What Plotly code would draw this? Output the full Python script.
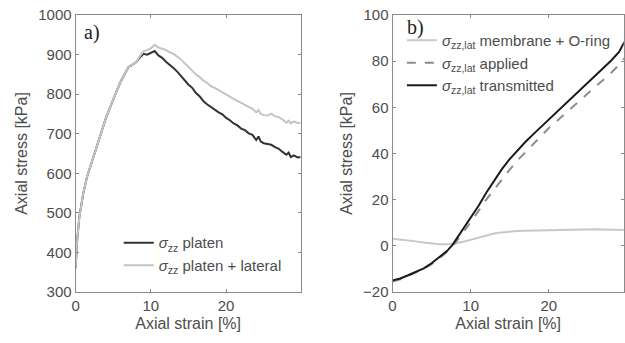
import plotly.graph_objects as go

# ---- Panel a) data ----
strain_a = [0, 0.2, 0.5, 1, 1.5, 2, 2.5, 3, 3.5, 4, 4.5, 5, 5.5, 6, 6.5, 7, 7.5, 8, 8.5, 9, 9.5, 10, 10.5,
            11, 11.5, 12, 12.5, 13, 13.5, 14, 14.5, 15, 15.5, 16, 16.5, 17, 17.5, 18, 18.5, 19, 19.5, 20,
            20.5, 21, 21.5, 22, 22.5, 23, 23.5, 24, 24.3, 24.6, 25, 25.5, 26, 26.5, 27, 27.5, 28, 28.3,
            28.6, 29, 29.5, 29.9]
platen = [360, 430, 490, 548, 590, 620, 650, 680, 710, 738, 763, 788, 810, 832, 850, 868, 874, 880, 892,
          902, 900, 905, 909, 898, 892, 882, 875, 866, 857, 846, 836, 824, 816, 803, 794, 782, 774, 767,
          762, 754, 749, 740, 734, 726, 721, 713, 709, 701, 697, 684, 693, 680, 676, 674, 672, 666, 662,
          654, 647, 652, 641, 645, 640, 641]
platen_lat = [360, 430, 490, 548, 590, 620, 650, 680, 710, 738, 763, 788, 810, 832, 850, 868, 874, 880,
              895, 908, 912, 916, 925, 918, 915, 912, 906, 902, 895, 888, 878, 868, 860, 850, 843, 834,
              828, 820, 816, 810, 805, 798, 794, 788, 783, 778, 773, 768, 763, 754, 760, 750, 747, 746,
              751, 744, 742, 736, 728, 733, 726, 731, 727, 727]

# ---- Panel b) data ----
strain_b = [0, 1, 2, 3, 4, 5, 6, 7, 7.7, 8, 9, 10, 11, 12, 13, 14, 15, 16, 17, 18, 19, 20, 21, 22, 23,
            24, 25, 26, 27, 28, 29, 29.7]
membrane = [3.0, 2.7, 2.3, 1.9, 1.4, 1.0, 0.7, 0.6, 0.8, 1.0, 1.7, 2.6, 3.6, 4.5, 5.3, 5.8, 6.2, 6.4, 6.5,
            6.6, 6.7, 6.8, 6.9, 7.0, 7.2, 7.3, 7.3, 7.2, 7.1, 7.0, 6.9, 6.8]
applied = [-15.5, -14.5, -13.0, -11.5, -10.0, -8.0, -5.5, -2.5, 0.0, 1.2, 5.5, 10.0, 15.0, 20.0, 24.5,
           29.0, 33.0, 37.0, 40.5, 44.0, 47.5, 51.0, 54.0, 57.0, 60.0, 63.0, 66.0, 69.0, 72.0, 75.0, 78.5,
           81.5]
transmitted = [-15.0, -14.2, -12.8, -11.3, -9.8, -7.6, -5.0, -2.2, 0.5, 2.0, 6.8, 11.8, 17.2, 23.0, 28.3,
               33.2, 37.6, 41.5, 45.0, 48.3, 51.5, 54.8, 58.0, 61.2, 64.3, 67.3, 70.5, 73.7, 77.0, 80.3,
               84.0, 88.5]

TXT = "#4d4d4d"
AX = "#8a8a8a"
FONT = "Liberation Sans, Arial, sans-serif"

fig = go.Figure()
fig.add_trace(go.Scatter(x=strain_a, y=platen, mode="lines", line=dict(color="#333333", width=2),
                         name="<i>σ</i><sub>zz</sub> platen", legend="legend", xaxis="x", yaxis="y"))
fig.add_trace(go.Scatter(x=strain_a, y=platen_lat, mode="lines", line=dict(color="#c4c4c4", width=2),
                         name="<i>σ</i><sub>zz</sub> platen + lateral", legend="legend", xaxis="x", yaxis="y"))
fig.add_trace(go.Scatter(x=strain_b, y=membrane, mode="lines", line=dict(color="#c8c8c8", width=2),
                         name="<i>σ</i><sub>zz,lat</sub> membrane + O-ring", legend="legend2", xaxis="x2", yaxis="y2"))
fig.add_trace(go.Scatter(x=strain_b, y=applied, mode="lines", line=dict(color="#8c8c8c", width=2, dash="dash"),
                         name="<i>σ</i><sub>zz,lat</sub> applied", legend="legend2", xaxis="x2", yaxis="y2"))
fig.add_trace(go.Scatter(x=strain_b, y=transmitted, mode="lines", line=dict(color="#1a1a1a", width=2),
                         name="<i>σ</i><sub>zz,lat</sub> transmitted", legend="legend2", xaxis="x2", yaxis="y2"))

axis_common = dict(showline=True, linecolor=AX, linewidth=1, mirror="ticks", ticks="inside", ticklen=3,
                   tickcolor=AX, showgrid=False, zeroline=False, tickfont=dict(size=15, color=TXT, family=FONT),
                   automargin=False)

fig.update_layout(
    width=625, height=343, margin=dict(l=0, r=0, t=0, b=0),
    paper_bgcolor="white", plot_bgcolor="white", font=dict(family=FONT, color=TXT),
    xaxis=dict(domain=[0.121, 0.481], range=[0, 29.9], tickvals=[0, 10, 20], anchor="y",
               title=dict(text="Axial strain [%]", font=dict(size=16, color=TXT), standoff=4), **axis_common),
    yaxis=dict(domain=[0.149, 0.956], range=[300, 1000], dtick=100, anchor="x",
               title=dict(text="Axial stress [kPa]", font=dict(size=16, color=TXT), standoff=6), **axis_common),
    xaxis2=dict(domain=[0.628, 0.998], range=[0, 29.6], tickvals=[0, 10, 20], anchor="y2",
                title=dict(text="Axial strain [%]", font=dict(size=16, color=TXT), standoff=4), **axis_common),
    yaxis2=dict(domain=[0.149, 0.956], range=[-20, 100], dtick=20, anchor="x2",
                title=dict(text="Axial stress [kPa]", font=dict(size=16, color=TXT), standoff=6), **axis_common),
    legend=dict(x=0.19, y=0.34, xanchor="left", yanchor="top", bgcolor="rgba(0,0,0,0)",
                font=dict(size=15, color=TXT, family=FONT), tracegroupgap=0, itemwidth=30),
    legend2=dict(x=0.643, y=0.93, xanchor="left", yanchor="top", bgcolor="rgba(0,0,0,0)",
                 font=dict(size=15, color=TXT, family=FONT), tracegroupgap=0, itemwidth=30),
    showlegend=True,
    annotations=[
        dict(text="a)", x=0.131, y=0.945, xref="paper", yref="paper", xanchor="left", yanchor="top",
             showarrow=False, font=dict(family="Liberation Serif, Times New Roman, serif", size=20, color="#222222")),
        dict(text="b)", x=0.648, y=0.96, xref="paper", yref="paper", xanchor="left", yanchor="top",
             showarrow=False, font=dict(family="Liberation Serif, Times New Roman, serif", size=20, color="#222222")),
    ],
)

fig.write_html("out.html")
